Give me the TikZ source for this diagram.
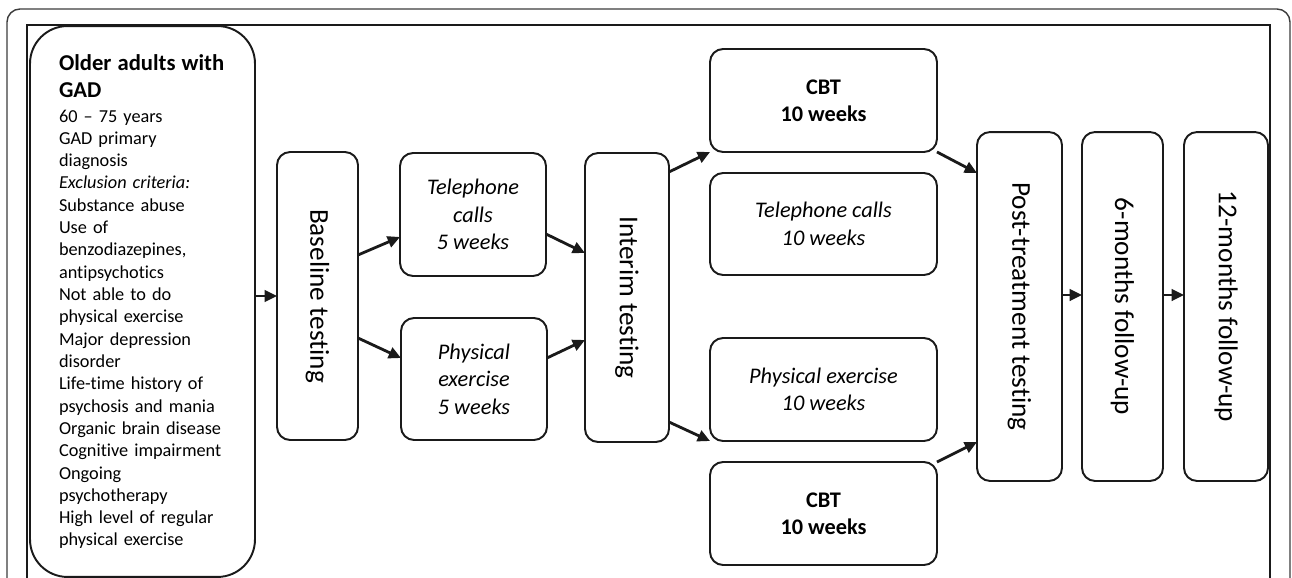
\documentclass[tikz,border=0pt]{standalone}
\usepackage{fontspec}
\setmainfont{Carlito}[Ligatures=NoCommon]
\usepackage{graphicx}
\usepackage{xcolor}
\definecolor{ink}{HTML}{1A1A1A}
\definecolor{frame}{HTML}{3C3C3C}
\usepackage{tikz}
\usetikzlibrary{arrows.meta,calc}
\setlength{\parindent}{0pt}
\newcommand{\vlabel}[1]{\rotatebox{-90}{\fontsize{15.5}{18}\selectfont #1}}

\begin{document}
\begin{tikzpicture}[x=0.02cm, y=-0.02cm,
    box/.style={draw=ink, line width=1.1pt, rounded corners=0.26cm, inner sep=0pt, outer sep=0pt, align=center, font=\fontsize{12.7}{15.6}\selectfont},
    armbox/.style={box, font=\fontsize{12.7}{15.6}\selectfont\itshape},
    cbtbox/.style={box, font=\fontsize{12.7}{15.6}\selectfont\bfseries},
    flow/.style={-{Triangle[length=7pt,width=6.5pt]}, draw=ink, line width=1.6pt}]
  \path[use as bounding box, clip] (0,0) rectangle (1292,578);
  \draw[draw=frame, line width=0.8pt, rounded corners=0.26cm] (7,9) rectangle (1290,640);
  \draw[draw=ink, line width=1.2pt] (27,25) rectangle (1270,640);
  \node[box, rounded corners=0.75cm, minimum width=4.5cm, minimum height=11.02cm,
        text width=3.34cm, align=left, font=\fontsize{10.4}{12.7}\selectfont] (incl) at (142.5,301.5)
       {{\fontsize{12.9}{15.9}\selectfont\bfseries Older adults with\\GAD\par}
        \vspace{1pt}60 -- 75 years\\GAD primary\\diagnosis\\\textit{Exclusion criteria:}\\
        Substance abuse\\Use of\\benzodiazepines,\\antipsychotics\\Not able to do\\
        physical exercise\\Major depression\\disorder\\Life-time history of\\
        psychosis and mania\\Organic brain disease\\Cognitive impairment\\Ongoing\\
        psychotherapy\\High level of regular\\physical exercise};
  \node[box, minimum width=1.62cm, minimum height=5.76cm] (base) at (317.5,296) {\vlabel{Baseline testing}};
  \node[armbox, minimum width=2.92cm, minimum height=2.46cm] (tel5) at (473,214.5) {Telephone\\calls\\5 weeks};
  \node[armbox, minimum width=2.92cm, minimum height=2.44cm] (phy5) at (474,379) {Physical\\exercise\\5 weeks};
  \node[box, minimum width=1.68cm, minimum height=5.78cm] (interim) at (627,297.5) {\vlabel{Interim testing}};
  \node[cbtbox, minimum width=4.54cm, minimum height=2.06cm] (cbt1) at (823.5,100.5) {CBT\\10 weeks};
  \node[armbox, minimum width=4.54cm, minimum height=2.04cm] (tel10) at (823.5,224) {Telephone calls\\10 weeks};
  \node[armbox, minimum width=4.54cm, minimum height=2.06cm] (phy10) at (823.5,389.5) {Physical exercise\\10 weeks};
  \node[cbtbox, minimum width=4.54cm, minimum height=2.06cm] (cbt2) at (823.5,513.5) {CBT\\10 weeks};
  \node[box, minimum width=1.7cm, minimum height=6.98cm] (post) at (1019.5,306.5) {\vlabel{Post-treatment testing}};
  \node[box, minimum width=1.62cm, minimum height=6.98cm] (fu6) at (1122.5,306.5) {\vlabel{6-months follow-up}};
  \node[box, minimum width=1.68cm, minimum height=6.98cm] (fu12) at (1226,306.5) {\vlabel{12-months follow-up}};
  \draw[flow] (incl.east |- base.west) -- (base.west);
  \draw[flow] ($(base.east)+(0,-41)$) -- ($(tel5.west)+(0,22.5)$);
  \draw[flow] ($(base.east)+(0,42)$) -- ($(phy5.west)+(0,-21)$);
  \draw[flow] ($(tel5.east)+(0,19.5)$) -- ($(interim.west)+(0,-44.5)$);
  \draw[flow] ($(phy5.east)+(0,-21)$) -- ($(interim.west)+(0,42.5)$);
  \draw[flow] ($(interim.east)+(0,-125.5)$) -- (cbt1.south west);
  \draw[flow] ($(interim.east)+(0,124.5)$) -- (phy10.south west);
  \draw[flow] (cbt1.south east) -- ($(post.west)+(0,-133.5)$);
  \draw[flow] (cbt2.north east) -- ($(post.west)+(0,135.5)$);
  \draw[flow] ($(post.east)+(0,-11.5)$) -- ($(fu6.west)+(0,-11.5)$);
  \draw[flow] ($(fu6.east)+(0,-11.5)$) -- ($(fu12.west)+(0,-11.5)$);
\end{tikzpicture}
\end{document}
